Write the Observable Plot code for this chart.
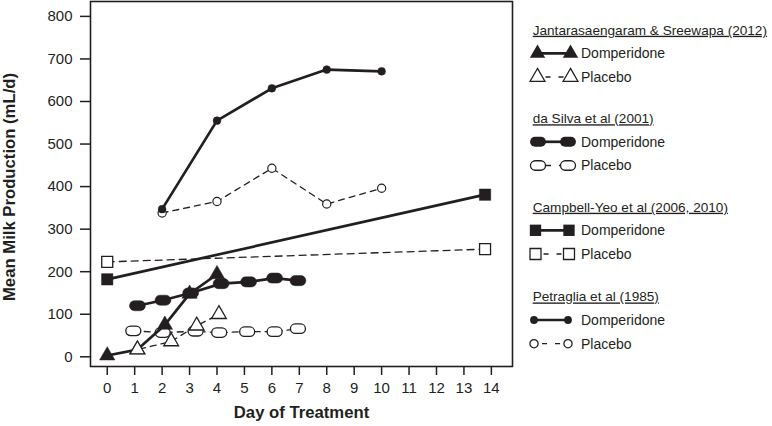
<!DOCTYPE html>
<html><head><meta charset="utf-8">
<script src="https://cdn.jsdelivr.net/npm/d3@7"></script>
<script src="https://cdn.jsdelivr.net/npm/@observablehq/plot@0.6"></script>
<style>
body{margin:0;background:#fff;}
#wrap{position:relative;width:772px;height:426px;font-family:"Liberation Sans",Arial,Helvetica,sans-serif;}
#wrap svg.lg{position:absolute;left:0;top:0;}
</style></head><body><div id="wrap"></div>
<script>
// ---------- data ----------
const dayTicks = [0, 1, 2, 3, 4, 5, 6, 7, 8, 9, 10, 11, 12, 13, 14];
const yTicks = [0, 100, 200, 300, 400, 500, 600, 700, 800];

// Jantarasaengaram & Sreewapa (2012)
const jsDomDay = [0, 1.1, 2.1, 3, 4];
const jsDomVal = [3, 17, 75, 148, 194];
const jsPlaDay = [0, 1.1, 2.33, 3.26, 4.07];
const jsPlaVal = [3, 17, 36, 73, 100];
// da Silva et al (2001)
const dsDomDay = [1.1, 2.03, 3.04, 4.15, 5.15, 6.1, 6.95];
const dsDomVal = [120, 133, 150, 172, 176, 185, 179];
const dsPlaDay = [0.95, 2.02, 3.22, 4.08, 5.1, 6.1, 6.95];
const dsPlaVal = [61, 57, 60, 57, 59, 59, 66];
// Campbell-Yeo et al (2006, 2010)
const cyDomDay = [0, 13.77];
const cyDomVal = [182, 381];
const cyPlaDay = [0, 13.77];
const cyPlaVal = [223, 253];
// Petraglia et al (1985)
const ptDomDay = [2, 4, 6, 8, 10];
const ptDomVal = [347, 555, 631, 675, 671];
const ptPlaDay = [2, 4, 6, 8, 10];
const ptPlaVal = [338, 365, 443, 359, 396];

const legendGroups = ["Jantarasaengaram & Sreewapa (2012)", "da Silva et al (2001)", "Campbell-Yeo et al (2006, 2010)", "Petraglia et al (1985)"];
const legendRows = ["Domperidone", "Placebo"];

// ---------- helpers ----------
const ink = "#231f20";
const rows = (days, vals) => days.map((d, i) => ({day: d, val: vals[i]}));
const stadium = {
  draw(ctx, size) {
    const s = Math.sqrt(size / Math.PI);
    const hh = s * 0.95, hw = s * 1.5;
    ctx.moveTo(-hw + hh, -hh);
    ctx.lineTo(hw - hh, -hh);
    ctx.arc(hw - hh, 0, hh, -Math.PI / 2, Math.PI / 2);
    ctx.lineTo(-hw + hh, hh);
    ctx.arc(-hw + hh, 0, hh, Math.PI / 2, Math.PI * 3 / 2);
    ctx.closePath();
  }
};
const solid = {stroke: ink, strokeWidth: 2.7};
const dashed = {stroke: ink, strokeWidth: 1.3, strokeDasharray: "6,5"};

const js_d = rows(jsDomDay, jsDomVal), js_p = rows(jsPlaDay, jsPlaVal);
const ds_d = rows(dsDomDay, dsDomVal), ds_p = rows(dsPlaDay, dsPlaVal);
const cy_d = rows(cyDomDay, cyDomVal), cy_p = rows(cyPlaDay, cyPlaVal);
const pt_d = rows(ptDomDay, ptDomVal), pt_p = rows(ptPlaDay, ptPlaVal);
const xy = {x: "day", y: "val"};

const chart = Plot.plot({
  width: 772, height: 426,
  marginLeft: 90, marginRight: 260, marginTop: 1, marginBottom: 60,
  style: {fontFamily: "'Liberation Sans', Arial, sans-serif", fontSize: "15px", color: ink, background: "transparent"},
  x: {domain: [-0.61, 14.77]},
  y: {domain: [-22.8, 835]},
  marks: [
    Plot.axisX({ticks: dayTicks, tickSize: 9, tickPadding: 6.5, strokeWidth: 1.5, label: null, fontSize: 15}),
    Plot.axisY({ticks: yTicks, tickSize: 10, tickPadding: 8, strokeWidth: 1.5, label: null, fontSize: 15}),
    Plot.frame({stroke: ink, strokeWidth: 1.6}),
    // Campbell-Yeo
    Plot.line(cy_p, {...xy, ...dashed, strokeDasharray: "7,5"}),
    Plot.line(cy_d, {...xy, ...solid}),
    Plot.dot(cy_p, {...xy, symbol: "square", r: 6.2, fill: "white", stroke: ink, strokeWidth: 1.3}),
    Plot.dot(cy_d, {...xy, symbol: "square", r: 6.4, fill: ink, stroke: ink, strokeWidth: 0.5}),
    // Petraglia
    Plot.line(pt_p, {...xy, ...dashed}),
    Plot.line(pt_d, {...xy, ...solid}),
    Plot.dot(pt_p, {...xy, r: 4.1, fill: "white", stroke: ink, strokeWidth: 1.2}),
    Plot.dot(pt_d, {...xy, r: 3.9, fill: ink, stroke: ink, strokeWidth: 0.5}),
    // da Silva
    Plot.line(ds_p, {...xy, ...dashed}),
    Plot.dot(ds_p, {...xy, symbol: stadium, r: 5, fill: "white", stroke: ink, strokeWidth: 1.3}),
    Plot.line(ds_d, {...xy, ...solid}),
    Plot.dot(ds_d, {...xy, symbol: stadium, r: 5.3, fill: ink, stroke: ink, strokeWidth: 0.5}),
    // Jantarasaengaram & Sreewapa
    Plot.line(js_p, {...xy, ...dashed}),
    Plot.line(js_d, {...xy, ...solid}),
    Plot.dot(js_d, {...xy, symbol: "triangle", r: 5.7, fill: ink, stroke: ink, strokeWidth: 0.5}),
    Plot.dot(js_p, {...xy, symbol: "triangle", r: 5.5, fill: "white", stroke: ink, strokeWidth: 1.3, filter: (d, i) => i > 0}),
    // axis titles
    Plot.text(["Day of Treatment"], {frameAnchor: "bottom", dy: 51, fontWeight: "bold", fontSize: 16.7, fill: ink}),
    Plot.text(["Mean Milk Production (mL/d)"], {frameAnchor: "left", textAnchor: "middle", rotate: -90, dx: -81, dy: 3, fontWeight: "bold", fontSize: 16.7, fill: ink})
  ]
});
const wrap = document.getElementById("wrap");
wrap.appendChild(chart);

// ---------- legend ----------
const lg = d3.select(wrap).append("svg").attr("class", "lg").attr("width", 772).attr("height", 426)
  .style("font-family", "'Liberation Sans', Arial, sans-serif").style("font-size", "14px");
const groupY = [30, 118.5, 207, 296.7];
const kinds = [
  {sym: d3.symbolTriangle, rd: 5.7, rp: 5.5, xl: 537.5, xr: 570.5},
  {sym: stadium, rd: 5.3, rp: 5, xl: 538, xr: 568},
  {sym: d3.symbolSquare, rd: 6.4, rp: 6.2, xl: 535.5, xr: 569},
  {sym: d3.symbolCircle, rd: 3.9, rp: 4.1, xl: 534, xr: 568}
];
legendGroups.forEach((name, g) => {
  const y0 = groupY[g], k = kinds[g];
  lg.append("text").attr("x", 532.7).attr("y", y0).attr("dy", "0.35em").attr("fill", ink)
    .style("font-size", "13.6px").style("text-decoration", "underline").text(name);
  const yd = y0 + 23.3, yp = y0 + 47;
  lg.append("line").attr("x1", k.xl).attr("x2", k.xr).attr("y1", yd).attr("y2", yd).attr("stroke", ink).attr("stroke-width", 2.7);
  [k.xl, k.xr].forEach(x => lg.append("path").attr("transform", `translate(${x},${yd})`)
    .attr("d", d3.symbol(k.sym, k.rd * k.rd * Math.PI)()).attr("fill", ink));
  lg.append("line").attr("x1", k.xl + 8).attr("x2", k.xr).attr("y1", yp).attr("y2", yp).attr("stroke", ink)
    .attr("stroke-width", 1.3).attr("stroke-dasharray", "5,8");
  [k.xl, k.xr].forEach(x => lg.append("path").attr("transform", `translate(${x},${yp})`)
    .attr("d", d3.symbol(k.sym, k.rp * k.rp * Math.PI)()).attr("fill", "white").attr("stroke", ink).attr("stroke-width", 1.3));
  [yd, yp].forEach((y, r) => lg.append("text").attr("x", 581).attr("y", y).attr("dy", "0.35em").attr("fill", ink).text(legendRows[r]));
});
</script></body></html>
